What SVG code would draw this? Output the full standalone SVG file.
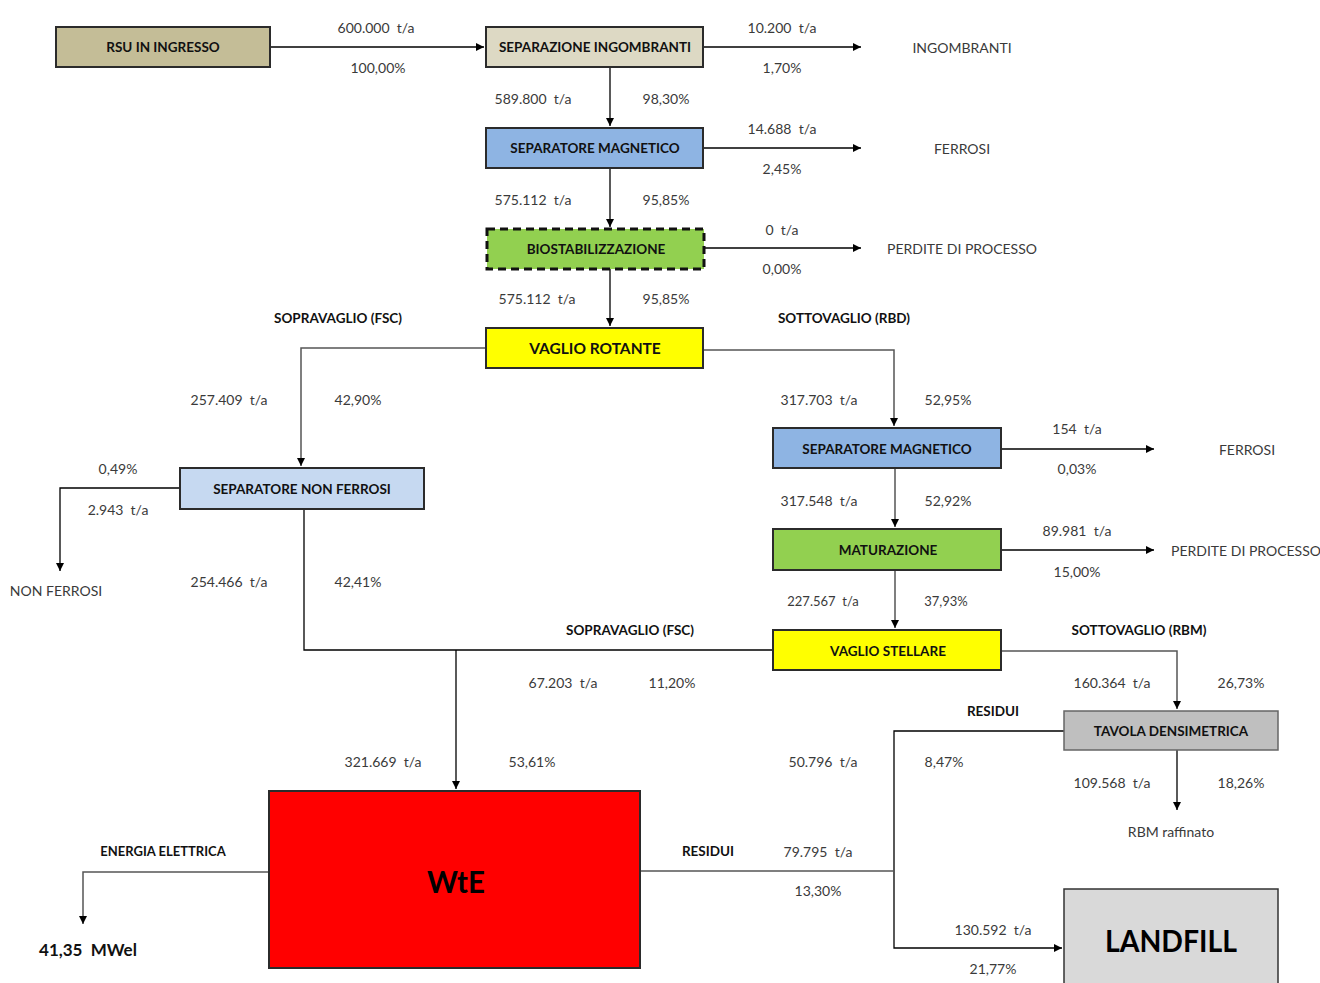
<svg xmlns="http://www.w3.org/2000/svg" width="1320" height="983" viewBox="0 0 1320 983" xml:space="preserve">
  <style>
    text { font-family: Lato, "Open Sans", "Liberation Sans", sans-serif; text-anchor: middle; dominant-baseline: central; white-space: pre; }
    .v { font-size: 14px; fill: #3a3a3a; }
    .vs { font-size: 13px; fill: #3a3a3a; }
    .h { font-size: 13.5px; font-weight: bold; fill: #111; }
    .n { font-size: 13.5px; font-weight: bold; fill: #111; }
    .box { stroke: #2b2b2b; stroke-width: 2; }
    .big { font-size: 31px; font-weight: bold; fill: #000; }
    .ln { fill: none; stroke: #000; stroke-width: 1.3; }
    .lg { fill: none; stroke: #555; stroke-width: 1.5; }
  </style>
  <defs>
    <marker id="arr" markerWidth="10" markerHeight="10" refX="8" refY="5" orient="auto" markerUnits="userSpaceOnUse">
      <path d="M0,1 L8,5 L0,9 Z" fill="#000"/>
    </marker>
  </defs>
  <rect width="1320" height="983" fill="#fff"/>

  <!-- connectors -->
  <g id="connectors">
    <path class="ln" d="M270,47 H484" marker-end="url(#arr)"/>
    <path class="ln" d="M703,47 H861" marker-end="url(#arr)"/>
    <path class="ln" d="M610,67 V126" marker-end="url(#arr)"/>
    <path class="ln" d="M703,148 H861" marker-end="url(#arr)"/>
    <path class="ln" d="M610,168 V227" marker-end="url(#arr)"/>
    <path class="ln" d="M704,248 H861" marker-end="url(#arr)"/>
    <path class="ln" d="M610,269 V326" marker-end="url(#arr)"/>
    <path class="lg" d="M486,348 H301 V466" marker-end="url(#arr)"/>
    <path class="lg" d="M703,350 H894 V426" marker-end="url(#arr)"/>
    <path class="ln" d="M180,488 H60 V571" marker-end="url(#arr)"/>
    <path class="ln" d="M304,509 V650 H773"/>
    <path class="ln" d="M456,650 V789" marker-end="url(#arr)"/>
    <path class="ln" d="M1001,449 H1154" marker-end="url(#arr)"/>
    <path class="lg" d="M895,468 V527" marker-end="url(#arr)"/>
    <path class="ln" d="M1001,550 H1154" marker-end="url(#arr)"/>
    <path class="lg" d="M895,570 V628" marker-end="url(#arr)"/>
    <path class="lg" d="M1001,651 H1177 V709" marker-end="url(#arr)"/>
    <path class="ln" d="M1064,731 H894 V948 H1062" marker-end="url(#arr)"/>
    <path class="lg" d="M640,871 H894"/>
    <path class="ln" d="M1177,750 V810" marker-end="url(#arr)"/>
    <path class="lg" d="M269,872 H83 V924" marker-end="url(#arr)"/>
  </g>

  <!-- process nodes -->
  <g id="rsu">
    <rect class="box" x="56" y="27" width="214" height="40" fill="#c4bd97"/>
    <text class="n" x="163" y="47">RSU IN INGRESSO</text>
  </g>
  <g id="sep-ingombranti">
    <rect class="box" x="486" y="27" width="217" height="40" fill="#ddd9c4"/>
    <text class="n" x="595" y="47">SEPARAZIONE INGOMBRANTI</text>
  </g>
  <g id="sep-magnetico-1">
    <rect class="box" x="486" y="128" width="217" height="40" fill="#8eb4e3"/>
    <text class="n" x="595" y="148">SEPARATORE MAGNETICO</text>
  </g>
  <g id="biostabilizzazione">
    <rect x="487" y="229" width="217" height="40" fill="#92d050" stroke="#111" stroke-width="3" stroke-dasharray="8,5"/>
    <text class="n" x="596" y="249">BIOSTABILIZZAZIONE</text>
  </g>
  <g id="vaglio-rotante">
    <rect class="box" x="486" y="328" width="217" height="40" fill="#ffff00"/>
    <text class="n" x="595" y="348" style="font-size:15.5px">VAGLIO ROTANTE</text>
  </g>
  <g id="sep-non-ferrosi">
    <rect class="box" x="180" y="468" width="244" height="41" fill="#c6d9f1"/>
    <text class="n" x="302" y="489">SEPARATORE NON FERROSI</text>
  </g>
  <g id="sep-magnetico-2">
    <rect class="box" x="773" y="428" width="228" height="40" fill="#8eb4e3"/>
    <text class="n" x="887" y="449">SEPARATORE MAGNETICO</text>
  </g>
  <g id="maturazione">
    <rect class="box" x="773" y="529" width="228" height="41" fill="#92d050"/>
    <text class="n" x="888" y="550">MATURAZIONE</text>
  </g>
  <g id="vaglio-stellare">
    <rect class="box" x="773" y="630" width="228" height="40" fill="#ffff00"/>
    <text class="n" x="888" y="651">VAGLIO STELLARE</text>
  </g>
  <g id="tavola-densimetrica">
    <rect x="1064" y="711" width="214" height="39" fill="#bfbfbf" stroke="#666" stroke-width="1.5"/>
    <text class="n" x="1171" y="731">TAVOLA DENSIMETRICA</text>
  </g>
  <g id="wte">
    <rect class="box" x="269" y="791" width="371" height="177" fill="#ff0000"/>
    <text class="big" x="456" y="881" textLength="58" lengthAdjust="spacingAndGlyphs">WtE</text>
  </g>
  <g id="landfill">
    <rect x="1064" y="889" width="214" height="100" fill="#d9d9d9" stroke="#333" stroke-width="1.5"/>
    <text class="big" x="1171" y="940" textLength="132" lengthAdjust="spacingAndGlyphs">LANDFILL</text>
  </g>

  <!-- flow values and outputs -->
  <g id="labels">
    <text class="v" x="376" y="27">600.000  t/a</text>
    <text class="v" x="378" y="67">100,00%</text>
    <text class="v" x="782" y="27">10.200  t/a</text>
    <text class="v" x="782" y="67">1,70%</text>
    <text class="v" x="962" y="47">INGOMBRANTI</text>
    <text class="v" x="533" y="98">589.800  t/a</text>
    <text class="v" x="666" y="98">98,30%</text>
    <text class="v" x="782" y="128">14.688  t/a</text>
    <text class="v" x="782" y="168">2,45%</text>
    <text class="v" x="962" y="148">FERROSI</text>
    <text class="v" x="533" y="199">575.112  t/a</text>
    <text class="v" x="666" y="199">95,85%</text>
    <text class="v" x="782" y="229">0  t/a</text>
    <text class="v" x="782" y="268">0,00%</text>
    <text class="v" x="962" y="248">PERDITE DI PROCESSO</text>
    <text class="v" x="537" y="298">575.112  t/a</text>
    <text class="v" x="666" y="298">95,85%</text>
    <text class="h" x="338" y="318">SOPRAVAGLIO (FSC)</text>
    <text class="h" x="844" y="318">SOTTOVAGLIO (RBD)</text>
    <text class="v" x="229" y="399">257.409  t/a</text>
    <text class="v" x="358" y="399">42,90%</text>
    <text class="v" x="819" y="399">317.703  t/a</text>
    <text class="v" x="948" y="399">52,95%</text>
    <text class="v" x="118" y="468">0,49%</text>
    <text class="v" x="118" y="509">2.943  t/a</text>
    <text class="v" x="56" y="590">NON FERROSI</text>
    <text class="v" x="1077" y="428">154  t/a</text>
    <text class="v" x="1077" y="468">0,03%</text>
    <text class="v" x="1247" y="449">FERROSI</text>
    <text class="v" x="819" y="500">317.548  t/a</text>
    <text class="v" x="948" y="500">52,92%</text>
    <text class="v" x="1077" y="530">89.981  t/a</text>
    <text class="v" x="1077" y="571">15,00%</text>
    <text class="v" x="1246" y="550">PERDITE DI PROCESSO</text>
    <text class="v" x="229" y="581">254.466  t/a</text>
    <text class="v" x="358" y="581">42,41%</text>
    <text class="vs" x="823" y="601">227.567  t/a</text>
    <text class="vs" x="946" y="601">37,93%</text>
    <text class="h" x="630" y="630">SOPRAVAGLIO (FSC)</text>
    <text class="h" x="1139" y="630">SOTTOVAGLIO (RBM)</text>
    <text class="v" x="563" y="682">67.203  t/a</text>
    <text class="v" x="672" y="682">11,20%</text>
    <text class="v" x="1112" y="682">160.364  t/a</text>
    <text class="v" x="1241" y="682">26,73%</text>
    <text class="h" x="993" y="711">RESIDUI</text>
    <text class="v" x="383" y="761">321.669  t/a</text>
    <text class="v" x="532" y="761">53,61%</text>
    <text class="v" x="823" y="761">50.796  t/a</text>
    <text class="v" x="944" y="761">8,47%</text>
    <text class="v" x="1112" y="782">109.568  t/a</text>
    <text class="v" x="1241" y="782">18,26%</text>
    <text class="v" x="1171" y="831">RBM raffinato</text>
    <text class="h" x="163" y="851" style="font-size:13px">ENERGIA ELETTRICA</text>
    <text class="h" x="708" y="851">RESIDUI</text>
    <text class="v" x="818" y="851">79.795  t/a</text>
    <text class="v" x="818" y="890">13,30%</text>
    <text class="h" x="88" y="949" style="font-size:17px">41,35  MWel</text>
    <text class="v" x="993" y="929">130.592  t/a</text>
    <text class="v" x="993" y="968">21,77%</text>
  </g>
</svg>
